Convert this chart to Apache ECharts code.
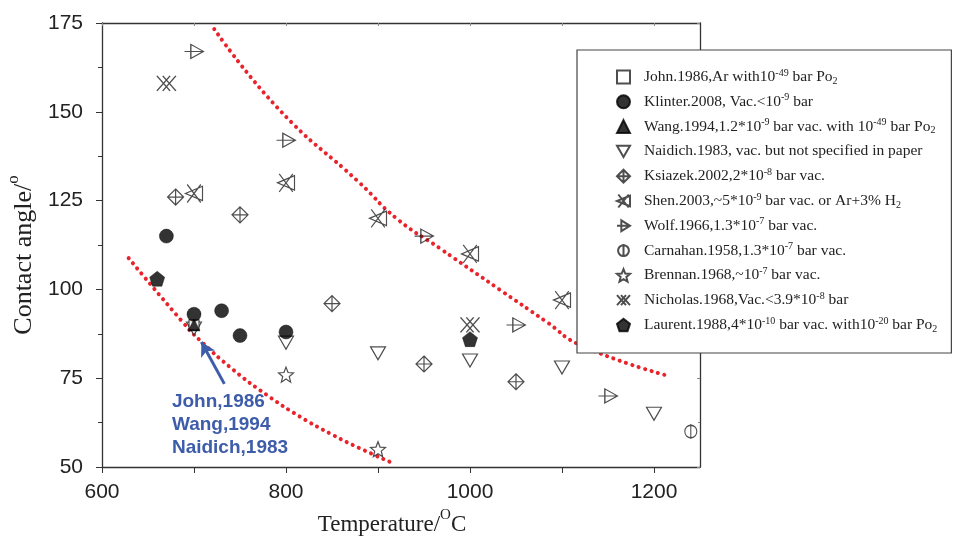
<!DOCTYPE html>
<html>
<head>
<meta charset="utf-8">
<script src="https://cdn.jsdelivr.net/npm/echarts@6/dist/echarts.min.js"></script>
<style>
  html, body { margin: 0; padding: 0; background: #fff; }
  #chart { width: 956px; height: 547px; }
</style>
</head>
<body>
<div id="chart"></div>
<script>
// Contact angle (deg) vs temperature (degC), one array per source
const john     = [[700, 90]];
const klinter  = [[670, 115], [700, 93], [730, 94], [750, 87], [800, 88]];
const wang     = [[700, 90]];
const naidich  = [[700, 89], [800, 85], [900, 82], [1000, 80], [1100, 78], [1200, 65]];
const ksiazek  = [[680, 126], [750, 121], [850, 96], [950, 79], [1050, 74]];
const shen     = [[700, 127], [800, 130], [900, 120], [1000, 110], [1100, 97]];
const wolf     = [[700, 167], [800, 142], [950, 115], [1050, 90], [1150, 70]];
const carnahan = [[1240, 60]];
const brennan  = [[800, 76], [900, 55]];
const nicholas = [[670, 158], [1000, 90]];
const laurent  = [[660, 103], [1000, 86]];

// Envelope curves (upper / lower bounds of the scatter)
const upperBound = [[722, 173.3], [793, 150.5], [880, 130], [920, 120], [967, 111.6],
                    [1033, 99.8], [1083, 90.9], [1120, 84.3], [1212, 75.9]];
const lowerBound = [[629, 108.8], [687, 91], [706, 85.8], [743, 77.3], [779, 70.3],
                    [815, 64.2], [851, 59], [880, 55.3], [915, 51.2]];

// Arrow pointing at the overlapping points at 700 degC
const arrowFrom = [733, 73.4];
const arrowTo   = [708, 85.2];
const noteAnchor = [676, 68.3];
const noteLines = ['John,1986', 'Wang,1994', 'Naidich,1983'];

// Axis ticks and labels
const xTicks  = [600, 700, 800, 900, 1000, 1100, 1200];
const xLabels = [600, 800, 1000, 1200];

// Legend texts (rich markup for super/subscripts)
const legendText = {
  'John.1986': 'John.1986,Ar with10{sup|-49} bar Po{sub|2}',
  'Klinter.2008': 'Klinter.2008, Vac.<10{sup|-9} bar',
  'Wang.1994': 'Wang.1994,1.2*10{sup|-9} bar vac. with 10{sup|-49} bar Po{sub|2}',
  'Naidich.1983': 'Naidich.1983, vac. but not specified in paper',
  'Ksiazek.2002': 'Ksiazek.2002,2*10{sup|-8} bar vac.',
  'Shen.2003': 'Shen.2003,~5*10{sup|-9} bar vac. or Ar+3% H{sub|2}',
  'Wolf.1966': 'Wolf.1966,1.3*10{sup|-7} bar vac.',
  'Carnahan.1958': 'Carnahan.1958,1.3*10{sup|-7} bar vac.',
  'Brennan.1968': 'Brennan.1968,~10{sup|-7} bar vac.',
  'Nicholas.1968': 'Nicholas.1968,Vac.<3.9*10{sup|-8} bar',
  'Laurent.1988': 'Laurent.1988,4*10{sup|-10} bar vac. with10{sup|-20} bar Po{sub|2}'
};

const INK = '#222';
const OPEN = { color: '#fff', borderColor: INK, borderWidth: 1.2 };
const HOLLOW = { color: 'rgba(255,255,255,0)', borderColor: INK, borderWidth: 1.2 };
const SOLID = { color: '#000', borderColor: '#000', borderWidth: 0.5 };

const SYM = {
  downTri: 'path://M0,0L10,0L5,8.66Z',
  diamondCross: 'path://M5,0L10,5L5,10L0,5Z M5,0L5,10 M0,5L10,5',
  triX: 'path://M10,1L0,5L10,9Z M1,0L9,10 M9,0L1,10',
  triLine: 'path://M4,0L12,5L4,10Z M0,5L12,5',
  circleBar: 'path://M0,5A5,5,0,1,1,10,5A5,5,0,1,1,0,5Z M5,-1L5,11',
  star: 'path://M5,0L6.293,3.22L9.755,3.455L7.092,5.68L7.939,9.045L5,7.2L2.061,9.045L2.908,5.68L0.245,3.455L3.707,3.22Z',
  doubleX: 'path://M0,0L9,10 M9,0L0,10 M4,0L13,10 M13,0L4,10',
  pentagon: 'path://M5,0L10,3.8L8.1,9.5L1.9,9.5L0,3.8Z'
};

function scatter(name, data, symbol, size, style) {
  return { name, type: 'scatter', data, symbol, symbolSize: size, itemStyle: style, z: 3 };
}

const series = [
  scatter('Naidich.1983', naidich, SYM.downTri, [15, 13], OPEN),
  scatter('Ksiazek.2002', ksiazek, SYM.diamondCross, 16, HOLLOW),
  scatter('Shen.2003', shen, SYM.triX, [17, 18], HOLLOW),
  scatter('Wolf.1966', wolf, SYM.triLine, [19, 14], HOLLOW),
  scatter('Carnahan.1958', carnahan, SYM.circleBar, [12, 15], HOLLOW),
  scatter('Brennan.1968', brennan, SYM.star, 15, OPEN),
  scatter('Nicholas.1968', nicholas, SYM.doubleX, [19, 15], HOLLOW),
  scatter('John.1986', john, 'rect', 10, OPEN),
  scatter('Wang.1994', wang, 'triangle', 12, SOLID),
  scatter('Klinter.2008', klinter, 'circle', 14, SOLID),
  scatter('Laurent.1988', laurent, SYM.pentagon, 15, SOLID),
  {
    name: 'upper', type: 'line', data: upperBound, smooth: true, showSymbol: false, silent: true,
    lineStyle: { color: '#e8232b', width: 4, type: [0.1, 6.6], cap: 'round' }, z: 2
  },
  {
    name: 'lower', type: 'line', data: lowerBound, smooth: true, showSymbol: false, silent: true,
    lineStyle: { color: '#e8232b', width: 4, type: [0.1, 6.6], cap: 'round' }, z: 2,
    markLine: {
      silent: true, symbol: ['none', 'arrow'], symbolSize: [12, 14],
      label: { show: false },
      lineStyle: { color: '#3d5ca9', width: 3, type: 'solid' },
      data: [[{ coord: arrowFrom }, { coord: arrowTo }]]
    }
  }
];

const legendOrder = ['John.1986', 'Klinter.2008', 'Wang.1994', 'Naidich.1983', 'Ksiazek.2002',
  'Shen.2003', 'Wolf.1966', 'Carnahan.1958', 'Brennan.1968', 'Nicholas.1968', 'Laurent.1988'];

const chart = echarts.init(document.getElementById('chart'), null, { renderer: 'canvas' });

const axisLabelFont = { fontFamily: 'Liberation Sans', fontSize: 21, color: '#222' };
const axisLine = { show: true, onZero: false, lineStyle: { color: '#333', width: 1.3 } };
// Axis title styles; the trailing padding nudges each title off-centre
const nameRich = (size, tail) => ({
  a: { fontFamily: 'Liberation Serif', fontSize: size, color: '#222', lineHeight: size + 6, verticalAlign: 'bottom' },
  s: { fontFamily: 'Liberation Serif', fontSize: Math.round(size * 0.65), color: '#222', lineHeight: Math.round(size * 0.65), verticalAlign: 'top' },
  e: { fontFamily: 'Liberation Serif', fontSize: size, color: '#222', lineHeight: size + 6, verticalAlign: 'bottom', padding: [0, tail, 0, 0] },
  se: { fontFamily: 'Liberation Serif', fontSize: Math.round(size * 0.65), color: '#222', lineHeight: Math.round(size * 0.65), verticalAlign: 'top', padding: [0, tail, 0, 0] }
});

chart.setOption({
  animation: false,
  backgroundColor: '#fff',
  grid: { left: 102, right: 256, top: 23, bottom: 80, outerBoundsMode: 'none' },
  xAxis: [
    {
      type: 'value', min: 600, max: 1250, interval: 100,
      axisLine,
      axisTick: { show: true, length: 6, lineStyle: { color: '#333' }, customValues: xTicks },
      axisLabel: { ...axisLabelFont, margin: 15, customValues: xLabels, formatter: v => String(v) },
      splitLine: { show: false },
      name: '{a|Temperature/}{s|O}{e|C}',
      nameLocation: 'middle', nameGap: 38,
      nameTextStyle: { rich: nameRich(23, 18) }
    },
    {
      type: 'value', min: 600, max: 1250, interval: 100, position: 'top',
      axisLine,
      axisTick: { show: true, inside: true, length: 3, lineStyle: { color: '#888' }, customValues: xTicks },
      axisLabel: { show: false }, splitLine: { show: false }
    }
  ],
  yAxis: [
    {
      type: 'value', min: 50, max: 175, interval: 25,
      axisLine,
      axisTick: { show: true, length: 6, lineStyle: { color: '#333' } },
      minorTick: { show: true, splitNumber: 2, length: 4, lineStyle: { color: '#333' } },
      axisLabel: { ...axisLabelFont, margin: 19 },
      splitLine: { show: false },
      name: '{a|Contact angle/}{se|o}',
      nameLocation: 'middle', nameGap: 56,
      nameTextStyle: { rich: nameRich(26, 20) }
    },
    {
      type: 'value', min: 50, max: 175, interval: 25, position: 'right',
      axisLine,
      axisTick: { show: true, inside: true, length: 3, lineStyle: { color: '#888' } },
      minorTick: { show: true, splitNumber: 2, length: 2, lineStyle: { color: '#888' } },
      axisLabel: { show: false }, splitLine: { show: false }
    }
  ],
  legend: {
    data: legendOrder,
    orient: 'vertical',
    left: 577, top: 50,
    padding: [18, 14, 19, 39],
    itemGap: 6.8,
    itemWidth: 13, itemHeight: 13,
    backgroundColor: '#fff',
    borderColor: '#444', borderWidth: 1.2,
    selectedMode: false,
    formatter: name => legendText[name],
    textStyle: {
      fontFamily: 'Liberation Serif', fontSize: 15.5, color: '#222', lineHeight: 18,
      padding: [0, 0, 0, 9],
      rich: {
        sup: { fontFamily: 'Liberation Serif', fontSize: 10, color: '#222', lineHeight: 9, verticalAlign: 'top' },
        sub: { fontFamily: 'Liberation Serif', fontSize: 10, color: '#222', lineHeight: 9, verticalAlign: 'bottom' }
      }
    }
  },
  series
});

// Blue note under the arrow
const notePos = chart.convertToPixel({ xAxisIndex: 0, yAxisIndex: 0 }, noteAnchor);
chart.setOption({
  graphic: [{
    type: 'text', left: notePos[0], top: notePos[1] - 12, z: 10,
    style: {
      text: noteLines.join('\n'),
      fill: '#3d5ca9',
      font: 'bold 19px "Liberation Sans"',
      lineHeight: 23
    }
  }]
});
</script>
</body>
</html>
